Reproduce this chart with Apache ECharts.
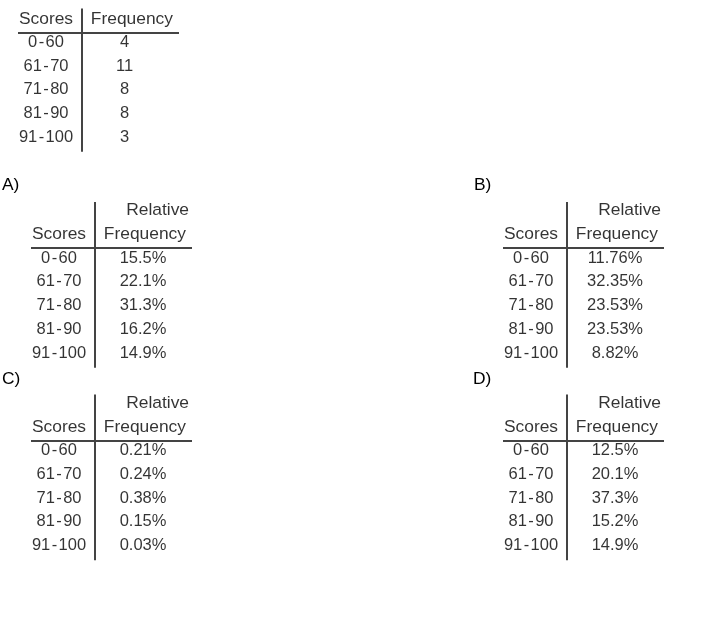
<!DOCTYPE html>
<html>
<head>
<meta charset="utf-8">
<script src="https://cdn.jsdelivr.net/npm/echarts@6/dist/echarts.min.js"></script>
<style>html,body{margin:0;padding:0;background:#fff;}#chart{width:719px;height:618px;}</style>
</head>
<body>
<div id="chart"></div>
<script>
// ---- data ----
const scoreBins = ['0-60', '61-70', '71-80', '81-90', '91-100'];
const frequencies = [4, 11, 8, 8, 3];
const relA = [15.5, 22.1, 31.3, 16.2, 14.9];
const relB = [11.76, 32.35, 23.53, 23.53, 8.82];
const relC = [0.21, 0.24, 0.38, 0.15, 0.03];
const relD = [12.5, 20.1, 37.3, 15.2, 14.9];
const headerScores = 'Scores';
const headerFreq = 'Frequency';
const headerRel = 'Relative';
const optionLabels = ['A)', 'B)', 'C)', 'D)'];

// ---- layout ----
const FONT = '"Liberation Sans", Arial, sans-serif';
const FS = 16.5;       // body text
const FSH = 17.4;      // header text
const TXT = '#000';
const RULE = '#444';
const RH = 23.75;      // px per row unit
const CW = 86;         // px per column unit
const XMIN = -0.5, XMAX = 1.6, YMAX = 5;

const tables = [
  { ruleX: 82, row0Y: 42, yMin: -1.8, values: frequencies.map(String), valX: 0.913, relative: false, vTop: -1.44 },
  { ruleX: 95, row0Y: 258, yMin: -3, values: relA.map(v => v + '%'), valX: 0.977, relative: true, vTop: -2.36, tag: 0, tagX: 2, tagY: 177 },
  { ruleX: 567, row0Y: 258, yMin: -3, values: relB.map(v => v + '%'), valX: 0.977, relative: true, vTop: -2.36, tag: 1, tagX: 474, tagY: 177 },
  { ruleX: 95, row0Y: 450.5, yMin: -3, values: relC.map(v => v + '%'), valX: 0.977, relative: true, vTop: -2.36, tag: 2, tagX: 2, tagY: 371 },
  { ruleX: 567, row0Y: 450.5, yMin: -3, values: relD.map(v => v + '%'), valX: 0.977, relative: true, vTop: -2.36, tag: 3, tagX: 473, tagY: 371 }
];

const fmtBin = s => s.replace('-', '\u200a-\u200a');
const ruleXU = 36 / CW;

const grid = [], xAxis = [], yAxis = [], series = [], title = [];
tables.forEach((t, i) => {
  grid.push({
    left: t.ruleX - 36 + XMIN * CW,
    width: (XMAX - XMIN) * CW,
    top: t.row0Y + t.yMin * RH,
    height: (YMAX - t.yMin) * RH,
    containLabel: false
  });
  xAxis.push({ type: 'value', gridIndex: i, min: XMIN, max: XMAX, show: false });
  yAxis.push({ type: 'value', gridIndex: i, min: t.yMin, max: YMAX, inverse: true, show: false });

  const lbl = (text, align, size) => ({ show: true, position: 'inside', formatter: text, align: align || 'center', verticalAlign: 'middle',
    color: TXT, fontSize: size || FS, fontFamily: FONT });
  const data = [];
  scoreBins.forEach((b, r) => data.push({ value: [0, r], label: lbl(fmtBin(b)) }));
  t.values.forEach((v, r) => data.push({ value: [t.valX, r], label: lbl(v) }));
  data.push({ value: [0, -1], label: lbl(headerScores, 'center', FSH) });
  data.push({ value: [(91 + 36) / CW, -1], label: lbl(headerFreq, 'right', FSH) });
  if (t.relative) data.push({ value: [(94 + 36) / CW, -2], label: lbl(headerRel, 'right', FSH) });

  series.push({
    type: 'scatter', xAxisIndex: i, yAxisIndex: i,
    symbol: 'circle', symbolSize: 1, itemStyle: { color: 'rgba(0,0,0,0)' },
    silent: true, data: data,
    markLine: {
      silent: true, symbol: 'none', animation: false,
      label: { show: false },
      lineStyle: { color: RULE, width: 2, type: 'solid' },
      data: [
        [{ coord: [(-64 + 36) / CW, -0.42] }, { coord: [(97 + 36) / CW, -0.42] }],
        [{ coord: [ruleXU, t.vTop] }, { coord: [ruleXU, 4.62] }]
      ]
    }
  });

  if (t.tag !== undefined) {
    title.push({ text: optionLabels[t.tag], left: t.tagX, top: t.tagY, padding: 0,
      textStyle: { fontSize: FSH, fontWeight: 'normal', color: TXT, fontFamily: FONT } });
  }
});

const chart = echarts.init(document.getElementById('chart'), null, { renderer: 'canvas' });
chart.setOption({ animation: false, backgroundColor: '#fff', title, grid, xAxis, yAxis, series });
</script>
</body>
</html>
